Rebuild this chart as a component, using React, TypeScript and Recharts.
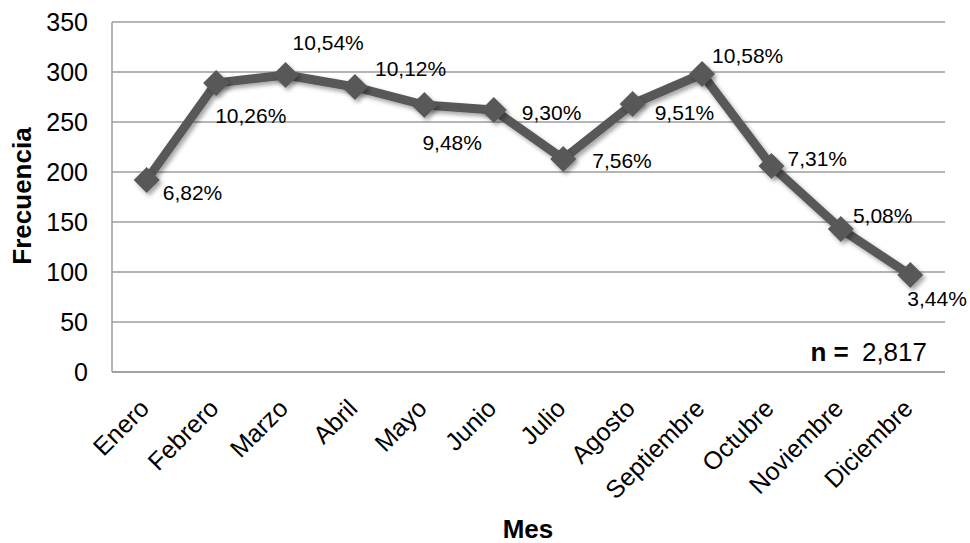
import React from 'react';
import { LineChart, Line, XAxis, YAxis, CartesianGrid, LabelList } from 'recharts';

const months = ['Enero', 'Febrero', 'Marzo', 'Abril', 'Mayo', 'Junio', 'Julio', 'Agosto', 'Septiembre', 'Octubre', 'Noviembre', 'Diciembre'];
const frequencies = [192, 289, 297, 285, 267, 262, 213, 268, 298, 206, 143, 97];
const percentages = [6.82, 10.26, 10.54, 10.12, 9.48, 9.3, 7.56, 9.51, 10.58, 7.31, 5.08, 3.44];
const yTicks = [0, 50, 100, 150, 200, 250, 300, 350];
const total = 2817;

// where each percentage label sits relative to its point (dx, dy)
const labelOffsets: [number, number][] = [
    [16, 12], [-1, 32], [7, -33], [20, -19], [-2, 37], [28, 2],
    [29, 1], [22, 8], [10, -19], [16, -8], [12, -14], [-3, 23],
];

const data = months.map((mes, i) => ({ mes, freq: frequencies[i], pct: percentages[i] }));

const FONT = 'Arial, "Liberation Sans", sans-serif';
const LINE = '#595959';
const GRID = '#9d9d9d';

const fmtPct = (v: number) => v.toFixed(2).replace('.', ',') + '%';

const Diamond = (props: any) => {
    const { cx, cy, index } = props;
    if (cx == null || cy == null) return null;
    const r = 13;
    return (
        <polygon
            key={`d-${index}`}
            points={`${cx},${cy - r} ${cx + r},${cy} ${cx},${cy + r} ${cx - r},${cy}`}
            fill={LINE}
            filter="url(#shadow)"
        />
    );
};

const PctLabel = (props: any) => {
    const { x, y, index, value } = props;
    const [dx, dy] = labelOffsets[index];
    return (
        <text x={x + dx} y={y + dy} dominantBaseline="central" fontSize={21} fontFamily={FONT} fill="#000">
            {fmtPct(value)}
        </text>
    );
};

const MonthTick = (props: any) => {
    const { x, payload } = props;
    return (
        <g transform={`translate(${x + 4},${410}) rotate(-45)`}>
            <text x={0} y={0} textAnchor="end" fontSize={25} fontFamily={FONT} fill="#000">
                {payload.value}
            </text>
        </g>
    );
};

export default function App() {
    return (
        <div style={{ position: 'absolute', left: 0, top: 0, width: 970, height: 543, background: '#fff' }}>
            <style>{`.recharts-line-curve { filter: url(#shadow); }`}</style>
            <LineChart width={970} height={543} data={data} margin={{ top: 22, right: 25, left: 0, bottom: 0 }}>
                <CartesianGrid vertical={false} stroke={GRID} strokeWidth={1.5} />
                <XAxis
                    dataKey="mes"
                    scale="band"
                    height={171}
                    interval={0}
                    tickLine={false}
                    axisLine={{ stroke: GRID, strokeWidth: 1.5 }}
                    tick={<MonthTick />}
                />
                <YAxis
                    domain={[0, 350]}
                    ticks={yTicks}
                    width={112}
                    tickLine={false}
                    tickSize={0}
                    tickMargin={24}
                    axisLine={{ stroke: GRID, strokeWidth: 1.5 }}
                    tick={{ fontSize: 25, fill: '#000', fontFamily: FONT }}
                />
                <Line
                    dataKey="freq"
                    stroke={LINE}
                    strokeWidth={9}
                    strokeLinejoin="round"
                    dot={<Diamond />}
                    activeDot={false}
                    isAnimationActive={false}
                >
                    <LabelList dataKey="pct" content={<PctLabel />} />
                </Line>
            </LineChart>
            <svg width={970} height={543} style={{ position: 'absolute', left: 0, top: 0, pointerEvents: 'none' }}>
                <defs>
                    <filter id="shadow" x="-20%" y="-20%" width="140%" height="140%">
                        <feDropShadow dx={2.5} dy={3} stdDeviation={2} floodColor="#000" floodOpacity={0.35} />
                    </filter>
                </defs>
                <text
                    transform="translate(31,196) rotate(-90)"
                    textAnchor="middle"
                    fontSize={26}
                    fontWeight="bold"
                    fontFamily={FONT}
                    fill="#000"
                >
                    Frecuencia
                </text>
                <text x={528} y={538} textAnchor="middle" fontSize={26} fontWeight="bold" fontFamily={FONT} fill="#000">
                    Mes
                </text>
                <text x={927} y={352} textAnchor="end" dominantBaseline="central" fontSize={26} fontFamily={FONT} fill="#000">
                    <tspan fontWeight="bold">n = </tspan>
                    <tspan dx={6}>{total.toLocaleString('en-US')}</tspan>
                </text>
            </svg>
        </div>
    );
}
